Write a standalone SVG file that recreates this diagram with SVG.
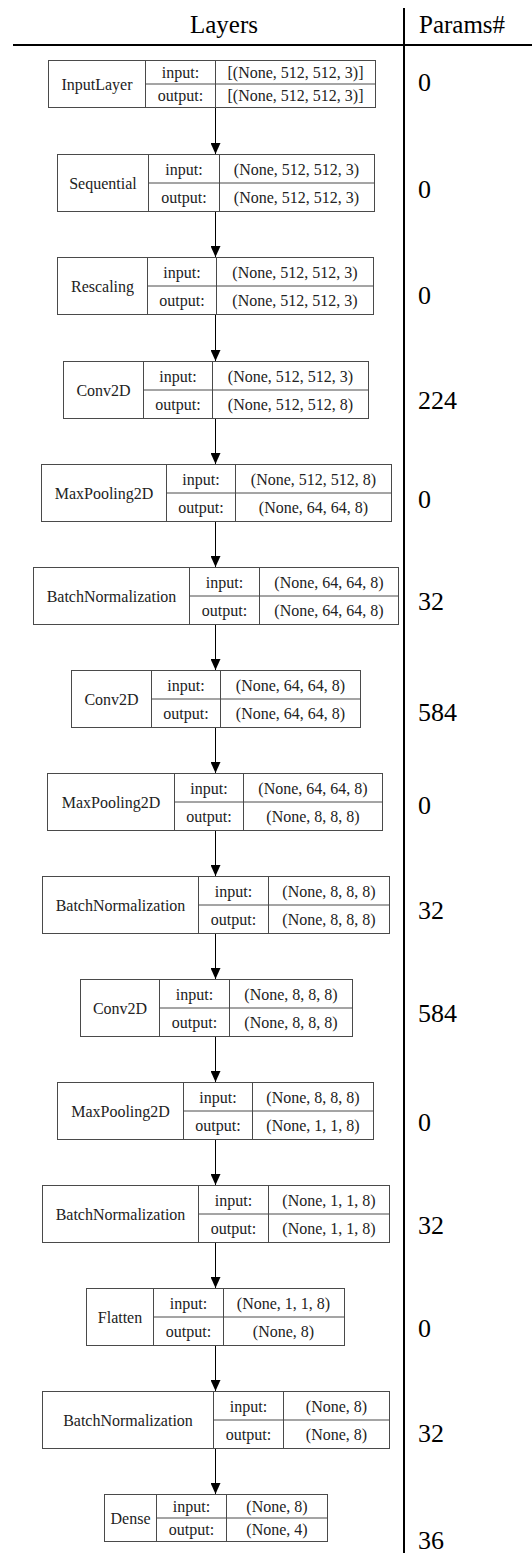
<svg xmlns="http://www.w3.org/2000/svg" width="532" height="1553" viewBox="0 0 532 1553" font-family="'Liberation Serif', 'Times New Roman', Times, serif">
<style>
.bg{fill:#fff}
.box{fill:#fff;stroke:#4a4a4a;stroke-width:1}
.ln{stroke:#4a4a4a;stroke-width:1;fill:none}
.t{font-family:'Liberation Serif','Times New Roman',Times,serif;font-size:16px;fill:#222;text-anchor:middle}
.p{font-family:'Liberation Serif','Times New Roman',Times,serif;font-size:26px;fill:#000}
.h{font-family:'Liberation Serif','Times New Roman',Times,serif;font-size:25px;fill:#000}
.rule{stroke:#000;stroke-width:2}
.arr{stroke:#000;stroke-width:1;fill:none;marker-end:url(#ah)}
</style>
<defs>
<marker id="ah" markerUnits="userSpaceOnUse" markerWidth="10" markerHeight="11" refX="5" refY="11" orient="0" viewBox="0 0 10 11">
<path d="M0,0 L10,0 L5,11 z" fill="#000"/>
</marker>
</defs>
<rect class="bg" x="0" y="0" width="532" height="1553"/>
<g id="header">
<text class="h" x="224" y="33" text-anchor="middle">Layers</text>
<text class="h" x="419" y="33">Params#</text>
<line class="rule" x1="13" y1="45" x2="532" y2="45"/>
<line class="rule" x1="404" y1="8" x2="404" y2="1553"/>
</g>
<g id="connectors">
<line class="arr" x1="215.5" y1="107" x2="215.5" y2="154"/>
<line class="arr" x1="215.5" y1="211" x2="215.5" y2="257"/>
<line class="arr" x1="215.5" y1="314" x2="215.5" y2="361"/>
<line class="arr" x1="215.5" y1="418" x2="215.5" y2="464"/>
<line class="arr" x1="215.5" y1="521" x2="215.5" y2="567"/>
<line class="arr" x1="215.5" y1="624" x2="215.5" y2="670"/>
<line class="arr" x1="215.5" y1="727" x2="215.5" y2="773"/>
<line class="arr" x1="215.5" y1="830" x2="215.5" y2="876"/>
<line class="arr" x1="215.5" y1="933" x2="215.5" y2="979"/>
<line class="arr" x1="215.5" y1="1036" x2="215.5" y2="1082"/>
<line class="arr" x1="215.5" y1="1139" x2="215.5" y2="1185"/>
<line class="arr" x1="215.5" y1="1242" x2="215.5" y2="1288"/>
<line class="arr" x1="215.5" y1="1345" x2="215.5" y2="1391"/>
<line class="arr" x1="215.5" y1="1448" x2="215.5" y2="1494"/>
</g>
<g id="n1">
<rect class="box" x="48.5" y="60.5" width="327" height="47"/>
<path class="ln" d="M145.5,60.5V107.5M215.5,60.5V107.5M145.5,84H375.5"/>
<text class="t" x="97" y="89.5">InputLayer</text>
<text class="t" x="180.5" y="78">input:</text>
<text class="t" x="180.5" y="101">output:</text>
<text class="t" x="295.5" y="78">[(None, 512, 512, 3)]</text>
<text class="t" x="295.5" y="101">[(None, 512, 512, 3)]</text>
<text class="p" x="418" y="91">0</text>
</g>
<g id="n2">
<rect class="box" x="57.5" y="154.5" width="317" height="57"/>
<path class="ln" d="M148.5,154.5V211.5M219.5,154.5V211.5M148.5,183H374.5"/>
<text class="t" x="103" y="188.5">Sequential</text>
<text class="t" x="184" y="174.5">input:</text>
<text class="t" x="184" y="203">output:</text>
<text class="t" x="296.5" y="174.5">(None, 512, 512, 3)</text>
<text class="t" x="296.5" y="203">(None, 512, 512, 3)</text>
<text class="p" x="418" y="198">0</text>
</g>
<g id="n3">
<rect class="box" x="57.5" y="257.5" width="316" height="57"/>
<path class="ln" d="M147.5,257.5V314.5M216.5,257.5V314.5M147.5,286H373.5"/>
<text class="t" x="102.5" y="291.5">Rescaling</text>
<text class="t" x="182" y="277.5">input:</text>
<text class="t" x="182" y="306">output:</text>
<text class="t" x="295" y="277.5">(None, 512, 512, 3)</text>
<text class="t" x="295" y="306">(None, 512, 512, 3)</text>
<text class="p" x="418" y="304">0</text>
</g>
<g id="n4">
<rect class="box" x="63.5" y="361.5" width="305" height="57"/>
<path class="ln" d="M143.5,361.5V418.5M212.5,361.5V418.5M143.5,390H368.5"/>
<text class="t" x="103.5" y="395.5">Conv2D</text>
<text class="t" x="178" y="381.5">input:</text>
<text class="t" x="178" y="410">output:</text>
<text class="t" x="290.5" y="381.5">(None, 512, 512, 3)</text>
<text class="t" x="290.5" y="410">(None, 512, 512, 8)</text>
<text class="p" x="418" y="409">224</text>
</g>
<g id="n5">
<rect class="box" x="41.5" y="464.5" width="350" height="57"/>
<path class="ln" d="M166.5,464.5V521.5M235.5,464.5V521.5M166.5,493H391.5"/>
<text class="t" x="104" y="498.5">MaxPooling2D</text>
<text class="t" x="201" y="484.5">input:</text>
<text class="t" x="201" y="513">output:</text>
<text class="t" x="313.5" y="484.5">(None, 512, 512, 8)</text>
<text class="t" x="313.5" y="513">(None, 64, 64, 8)</text>
<text class="p" x="418" y="508">0</text>
</g>
<g id="n6">
<rect class="box" x="33.5" y="567.5" width="365" height="57"/>
<path class="ln" d="M189.5,567.5V624.5M259.5,567.5V624.5M189.5,596H398.5"/>
<text class="t" x="111.5" y="601.5">BatchNormalization</text>
<text class="t" x="224.5" y="587.5">input:</text>
<text class="t" x="224.5" y="616">output:</text>
<text class="t" x="329" y="587.5">(None, 64, 64, 8)</text>
<text class="t" x="329" y="616">(None, 64, 64, 8)</text>
<text class="p" x="418" y="610">32</text>
</g>
<g id="n7">
<rect class="box" x="71.5" y="670.5" width="289" height="57"/>
<path class="ln" d="M151.5,670.5V727.5M220.5,670.5V727.5M151.5,699H360.5"/>
<text class="t" x="111.5" y="704.5">Conv2D</text>
<text class="t" x="186" y="690.5">input:</text>
<text class="t" x="186" y="719">output:</text>
<text class="t" x="290.5" y="690.5">(None, 64, 64, 8)</text>
<text class="t" x="290.5" y="719">(None, 64, 64, 8)</text>
<text class="p" x="418" y="721">584</text>
</g>
<g id="n8">
<rect class="box" x="47.5" y="773.5" width="335" height="57"/>
<path class="ln" d="M174.5,773.5V830.5M243.5,773.5V830.5M174.5,802H382.5"/>
<text class="t" x="111" y="807.5">MaxPooling2D</text>
<text class="t" x="209" y="793.5">input:</text>
<text class="t" x="209" y="822">output:</text>
<text class="t" x="313" y="793.5">(None, 64, 64, 8)</text>
<text class="t" x="313" y="822">(None, 8, 8, 8)</text>
<text class="p" x="418" y="814">0</text>
</g>
<g id="n9">
<rect class="box" x="42.5" y="876.5" width="347" height="57"/>
<path class="ln" d="M198.5,876.5V933.5M268.5,876.5V933.5M198.5,905H389.5"/>
<text class="t" x="120.5" y="910.5">BatchNormalization</text>
<text class="t" x="233.5" y="896.5">input:</text>
<text class="t" x="233.5" y="925">output:</text>
<text class="t" x="329" y="896.5">(None, 8, 8, 8)</text>
<text class="t" x="329" y="925">(None, 8, 8, 8)</text>
<text class="p" x="418" y="919">32</text>
</g>
<g id="n10">
<rect class="box" x="80.5" y="979.5" width="272" height="57"/>
<path class="ln" d="M159.5,979.5V1036.5M229.5,979.5V1036.5M159.5,1008H352.5"/>
<text class="t" x="120" y="1013.5">Conv2D</text>
<text class="t" x="194.5" y="999.5">input:</text>
<text class="t" x="194.5" y="1028">output:</text>
<text class="t" x="291" y="999.5">(None, 8, 8, 8)</text>
<text class="t" x="291" y="1028">(None, 8, 8, 8)</text>
<text class="p" x="418" y="1022">584</text>
</g>
<g id="n11">
<rect class="box" x="57.5" y="1082.5" width="316" height="57"/>
<path class="ln" d="M183.5,1082.5V1139.5M252.5,1082.5V1139.5M183.5,1111H373.5"/>
<text class="t" x="120.5" y="1116.5">MaxPooling2D</text>
<text class="t" x="218" y="1102.5">input:</text>
<text class="t" x="218" y="1131">output:</text>
<text class="t" x="313" y="1102.5">(None, 8, 8, 8)</text>
<text class="t" x="313" y="1131">(None, 1, 1, 8)</text>
<text class="p" x="418" y="1131">0</text>
</g>
<g id="n12">
<rect class="box" x="42.5" y="1185.5" width="347" height="57"/>
<path class="ln" d="M198.5,1185.5V1242.5M268.5,1185.5V1242.5M198.5,1214H389.5"/>
<text class="t" x="120.5" y="1219.5">BatchNormalization</text>
<text class="t" x="233.5" y="1205.5">input:</text>
<text class="t" x="233.5" y="1234">output:</text>
<text class="t" x="329" y="1205.5">(None, 1, 1, 8)</text>
<text class="t" x="329" y="1234">(None, 1, 1, 8)</text>
<text class="p" x="418" y="1234">32</text>
</g>
<g id="n13">
<rect class="box" x="86.5" y="1288.5" width="258" height="57"/>
<path class="ln" d="M153.5,1288.5V1345.5M223.5,1288.5V1345.5M153.5,1317H344.5"/>
<text class="t" x="120" y="1322.5">Flatten</text>
<text class="t" x="188.5" y="1308.5">input:</text>
<text class="t" x="188.5" y="1337">output:</text>
<text class="t" x="283.5" y="1308.5">(None, 1, 1, 8)</text>
<text class="t" x="283.5" y="1337">(None, 8)</text>
<text class="p" x="418" y="1337">0</text>
</g>
<g id="n14">
<rect class="box" x="42.5" y="1391.5" width="347" height="57"/>
<path class="ln" d="M213.5,1391.5V1448.5M283.5,1391.5V1448.5M213.5,1420H389.5"/>
<text class="t" x="128" y="1425.5">BatchNormalization</text>
<text class="t" x="248.5" y="1411.5">input:</text>
<text class="t" x="248.5" y="1440">output:</text>
<text class="t" x="336.5" y="1411.5">(None, 8)</text>
<text class="t" x="336.5" y="1440">(None, 8)</text>
<text class="p" x="418" y="1442">32</text>
</g>
<g id="n15">
<rect class="box" x="104.5" y="1494.5" width="223" height="47"/>
<path class="ln" d="M156.5,1494.5V1541.5M226.5,1494.5V1541.5M156.5,1518H327.5"/>
<text class="t" x="130.5" y="1523.5">Dense</text>
<text class="t" x="191.5" y="1512">input:</text>
<text class="t" x="191.5" y="1535">output:</text>
<text class="t" x="277" y="1512">(None, 8)</text>
<text class="t" x="277" y="1535">(None, 4)</text>
<text class="p" x="418" y="1549">36</text>
</g>
</svg>
